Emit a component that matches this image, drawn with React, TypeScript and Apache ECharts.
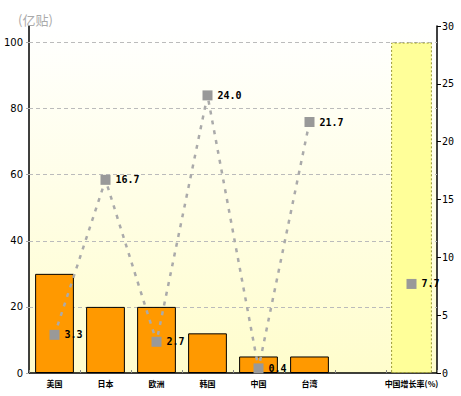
import React, { useEffect, useRef } from "react";
import * as echarts from "echarts";

const categories = ["美国", "日本", "欧洲", "韩国", "中国", "台湾", "", "中国增长率(%)"];
const volumes = [30, 20, 20, 12, 5, 5, "-", "-"];
const growth = [3.3, 16.7, 2.7, 24.0, 0.4, 21.7, "-", 7.7];
const highlight = ["-", "-", "-", "-", "-", "-", "-", 100];
const leftGridValues = [20, 40, 60, 80, 100];
const unitLabel = "(亿贴)";

export default function App() {
  const ref = useRef<HTMLDivElement>(null);
  useEffect(() => {
    if (!ref.current) return;
    const chart = echarts.init(ref.current, null, { renderer: "svg" });
    chart.setOption({
      animation: false,
      backgroundColor: "#ffffff",
      title: {
        text: unitLabel,
        left: 13,
        top: 8,
        textStyle: { color: "#aaaaaa", fontSize: 13, fontWeight: "normal", fontFamily: "Noto Sans CJK SC" },
      },
      grid: {
        left: 29,
        right: 24,
        top: 26,
        bottom: 23,
        show: true,
        borderWidth: 0,
        backgroundColor: new echarts.graphic.LinearGradient(0, 0, 0, 1, [
          { offset: 0, color: "#ffffff" },
          { offset: 1, color: "#fffdcc" },
        ]),
      },
      xAxis: [
        {
          type: "category",
          data: categories,
          axisLine: { lineStyle: { color: "#000", width: 1.5 } },
          axisTick: { show: true, inside: true, length: 3, lineStyle: { color: "#888" } },
          axisLabel: {
            color: "#000",
            fontSize: 8,
            fontWeight: "bold",
            fontFamily: "Noto Sans CJK SC",
            margin: 6,
            interval: 0,
          },
        },
        { type: "category", data: categories, show: false },
      ],
      yAxis: [
        {
          type: "value",
          min: 0,
          max: 105,
          interval: 20,
          axisLine: { show: true, lineStyle: { color: "#000", width: 1.5 } },
          axisTick: { show: true, length: 3, lineStyle: { color: "#aaa" } },
          axisLabel: { showMaxLabel: false, color: "#000", fontSize: 10, fontFamily: "DejaVu Sans", margin: 6 },
          splitLine: { show: false },
        },
        {
          type: "value",
          min: 0,
          max: 30,
          interval: 5,
          position: "right",
          axisLine: { show: true, lineStyle: { color: "#000", width: 1.5 } },
          axisTick: { show: true, length: 4, lineStyle: { color: "#000" } },
          axisLabel: { color: "#000", fontSize: 10, fontFamily: "DejaVu Sans Mono", margin: 5 },
          splitLine: { show: false },
        },
      ],
      series: [
        {
          type: "bar",
          data: volumes,
          xAxisIndex: 0,
          yAxisIndex: 0,
          barWidth: "76%",
          z: 2,
          itemStyle: { color: "#ff9900", borderColor: "#000", borderWidth: 1 },
          markLine: {
            silent: true,
            symbol: "none",
            label: { show: false },
            lineStyle: { color: "#bbbbbb", type: [4, 3], width: 1 },
            data: leftGridValues.map((v) => ({ yAxis: v })),
            z: 1,
          },
        },
        {
          type: "bar",
          data: highlight,
          xAxisIndex: 1,
          yAxisIndex: 0,
          barWidth: "80%",
          z: 3,
          itemStyle: { color: "#ffff99", borderColor: "#999933", borderWidth: 1, borderType: [2, 2] },
        },
        {
          type: "line",
          data: growth,
          xAxisIndex: 0,
          yAxisIndex: 1,
          z: 5,
          connectNulls: false,
          symbol: "rect",
          symbolSize: 10,
          itemStyle: { color: "#999999" },
          lineStyle: { color: "#aaaaaa", width: 2.5, type: [4, 6] },
          label: {
            show: true,
            position: "right",
            distance: 5,
            color: "#000",
            fontSize: 10,
            fontWeight: "bold",
            fontFamily: "DejaVu Sans Mono",
            formatter: (p: any) => Number(p.value).toFixed(1),
          },
        },
      ],
    });
    return () => chart.dispose();
  }, []);
  return <div ref={ref} style={{ position: "fixed", left: 0, top: 0, width: 461, height: 396 }} />;
}
